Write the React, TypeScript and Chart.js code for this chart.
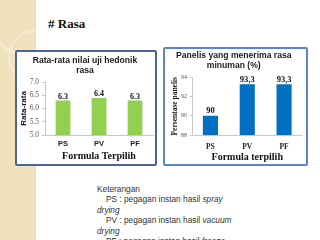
import React, { useEffect, useRef } from "react";
import { Chart, registerables } from "chart.js";

Chart.register(...registerables);

const categories = ["PS", "PV", "PF"];

const hedonicTitle = ["Rata-rata nilai uji hedonik", "rasa"];
const hedonicScores = [6.3, 6.4, 6.3];
const hedonicValueLabels = ["6.3", "6.4", "6.3"];
const hedonicTicks = [5.0, 5.5, 6.0, 6.5, 7.0];
const hedonicTickLabels = ["5.0", "5.5", "6.0", "6.5", "7.0"];
const hedonicYTitle = "Rata-rata";
const hedonicXTitle = "Formula Terpilih";

const acceptTitle = ["Panelis yang menerima rasa", "minuman (%)"];
const acceptPercent = [90, 93.3, 93.3];
const acceptValueLabels = ["90", "93,3", "93,3"];
const acceptTicks = [88, 89, 90, 91, 92, 93, 94];
const acceptTickLabels = ["88", "89", "90", "91", "92", "93", "94"];
const acceptYTitle = "Persentase panelis";
const acceptXTitle = "Formula terpilih";

const noteLines = [
  { indent: false, parts: [{ t: "Keterangan", i: false }] },
  { indent: true, parts: [{ t: "PS : pegagan instan hasil ", i: false }, { t: "spray", i: true }] },
  { indent: false, parts: [{ t: "drying", i: true }] },
  { indent: true, parts: [{ t: "PV : pegagan instan hasil ", i: false }, { t: "vacuum", i: true }] },
  { indent: false, parts: [{ t: "drying", i: true }] },
  { indent: true, parts: [{ t: "PF : pegagan instan hasil ", i: false }, { t: "freeze", i: true }] },
];

const SERIF = "'Liberation Serif', 'DejaVu Serif', serif";
const SANS = "'Liberation Sans', Arial, sans-serif";

const valueLabelPlugin = {
  id: "valueLabels",
  afterDatasetsDraw(chart: any, _args: any, opts: any) {
    const { ctx } = chart;
    const meta = chart.getDatasetMeta(0);
    ctx.save();
    ctx.font = opts.font;
    ctx.fillStyle = opts.color;
    ctx.textAlign = "center";
    ctx.textBaseline = "alphabetic";
    meta.data.forEach((el: any, j: number) => {
      ctx.fillText(opts.labels[j], el.x, el.y - opts.offset);
    });
    ctx.restore();
  },
};

type PanelSpec = {
  width: number;
  height: number;
  title: string[];
  titleSize: number;
  titlePad: { top: number; bottom: number };
  values: number[];
  color: string;
  ticks: number[];
  tickLabels: string[];
  tickFont: any;
  yTitle: string;
  yTitleFont: any;
  yTitlePad: number;
  yWidth: number;
  tickLength: number;
  xTitle: string;
  xHeight: number;
  xLabelFont: any;
  xLabelPad: number;
  xTitlePad: { top: number; bottom: number };
  padRight: number;
  valueLabels: string[];
  valueFont: string;
  valueOffset: number;
};

function BarPanel({ spec }: { spec: PanelSpec }) {
  const ref = useRef<HTMLCanvasElement | null>(null);
  useEffect(() => {
    if (!ref.current) return;
    const s = spec;
    const chart = new Chart(ref.current, {
      type: "bar",
      data: {
        labels: categories,
        datasets: [
          {
            data: s.values,
            backgroundColor: s.color,
            borderWidth: 0,
            categoryPercentage: 1,
            barPercentage: 0.41,
          },
        ],
      },
      plugins: [valueLabelPlugin],
      options: {
        responsive: false,
        animation: false,
        devicePixelRatio: 1,
        layout: { padding: { left: 0, right: s.padRight, top: 0, bottom: 0 } },
        plugins: {
          legend: { display: false },
          tooltip: { enabled: false },
          title: {
            display: true,
            text: s.title,
            color: "#1a1a1a",
            font: { family: SANS, size: s.titleSize, weight: "bold", lineHeight: "10px" },
            padding: s.titlePad,
          },
          valueLabels: {
            labels: s.valueLabels,
            font: s.valueFont,
            color: "#111",
            offset: s.valueOffset,
          },
        } as any,
        scales: {
          x: {
            afterFit: (scale: any) => {
              scale.height = s.xHeight;
            },
            grid: { display: false, drawTicks: false },
            border: { display: true, color: "#c8c8c8", width: 1 },
            ticks: { color: "#222", font: s.xLabelFont, padding: s.xLabelPad },
            title: {
              display: true,
              text: s.xTitle,
              color: "#111",
              font: { family: SERIF, size: 10, weight: "bold", lineHeight: "12px" },
              padding: s.xTitlePad,
            },
          },
          y: {
            min: s.ticks[0],
            max: s.ticks[s.ticks.length - 1],
            afterBuildTicks: (scale: any) => {
              scale.ticks = s.ticks.map((v) => ({ value: v }));
            },
            afterFit: (scale: any) => {
              scale.width = s.yWidth;
            },
            grid: {
              display: true,
              drawOnChartArea: false,
              drawTicks: true,
              tickLength: s.tickLength,
              color: "#c8c8c8",
            },
            border: { display: true, color: "#c8c8c8", width: 1 },
            ticks: {
              color: "#595959",
              font: s.tickFont,
              padding: 3,
              callback: (_v: any, i: number) => s.tickLabels[i],
            },
            title: {
              display: true,
              text: s.yTitle,
              color: "#111",
              font: s.yTitleFont,
              padding: { top: s.yTitlePad, bottom: 0 },
            },
          },
        },
      } as any,
    });
    return () => chart.destroy();
  }, [spec]);
  return (
    <canvas
      ref={ref}
      width={spec.width}
      height={spec.height}
      style={{ position: "absolute", left: 0, top: 0, width: spec.width, height: spec.height }}
    />
  );
}

const leftSpec: PanelSpec = {
  width: 138,
  height: 112,
  title: hedonicTitle,
  titleSize: 8.6,
  titlePad: { top: 4, bottom: 6 },
  values: hedonicScores,
  color: "#92d050",
  ticks: hedonicTicks,
  tickLabels: hedonicTickLabels,
  tickFont: { family: SERIF, size: 7.5, lineHeight: "9px" },
  yTitle: hedonicYTitle,
  yTitleFont: { family: SANS, size: 8, weight: "bold", lineHeight: "9.6px" },
  yTitlePad: 2.2,
  yWidth: 28,
  tickLength: 3,
  xTitle: hedonicXTitle,
  xHeight: 29,
  xLabelFont: { family: SANS, size: 7.5, weight: "bold", lineHeight: "9px" },
  xLabelPad: 4,
  xTitlePad: { top: 2, bottom: 1.5 },
  padRight: 2,
  valueLabels: hedonicValueLabels,
  valueFont: `bold 8px ${SERIF}`,
  valueOffset: 2,
};

const rightSpec: PanelSpec = {
  width: 141,
  height: 115,
  title: acceptTitle,
  titleSize: 8.6,
  titlePad: { top: 1.5, bottom: 7 },
  values: acceptPercent,
  color: "#0070c0",
  ticks: acceptTicks,
  tickLabels: acceptTickLabels,
  tickFont: { family: SERIF, size: 6, lineHeight: "7px" },
  yTitle: acceptYTitle,
  yTitleFont: { family: SERIF, size: 7.5, weight: "bold", lineHeight: "9px" },
  yTitlePad: 5.5,
  yWidth: 27,
  tickLength: 2,
  xTitle: acceptXTitle,
  xHeight: 29,
  xLabelFont: { family: SERIF, size: 7.5, weight: "bold", lineHeight: "9px" },
  xLabelPad: 7.5,
  xTitlePad: { top: 1, bottom: 0.5 },
  padRight: 3.5,
  valueLabels: acceptValueLabels,
  valueFont: `bold 8.5px ${SERIF}`,
  valueOffset: 2.5,
};

export default function App() {
  return (
    <div
      style={{
        position: "fixed",
        left: 0,
        top: 0,
        width: 320,
        height: 240,
        background: "#ffffff",
        overflow: "hidden",
      }}
    >
      <div
        style={{
          position: "absolute",
          left: 0,
          top: 0,
          width: 35,
          height: 240,
          background: "#f0e2bd",
          borderRight: "1px solid #ebdcb2",
          overflow: "hidden",
        }}
      >
        <div
          style={{
            position: "absolute",
            left: -10,
            top: -18,
            width: 70,
            height: 70,
            borderRadius: "50%",
            border: "2px solid rgba(255,255,255,0.35)",
          }}
        />
        <div
          style={{
            position: "absolute",
            left: 8,
            top: 30,
            width: 50,
            height: 50,
            borderRadius: "50%",
            border: "2px solid rgba(255,255,255,0.3)",
          }}
        />
      </div>
      <div
        style={{
          position: "absolute",
          left: 48,
          top: 15,
          fontFamily: SERIF,
          fontWeight: "bold",
          fontSize: 13,
          lineHeight: "18px",
          color: "#111",
        }}
      >
        # Rasa
      </div>
      <div
        style={{
          position: "absolute",
          left: 15,
          top: 50,
          width: 142,
          height: 116,
          boxSizing: "border-box",
          border: "2px solid #4d6596",
          borderRadius: 2,
          background: "#fff",
        }}
      >
        <BarPanel spec={leftSpec} />
      </div>
      <div
        style={{
          position: "absolute",
          left: 163,
          top: 47,
          width: 145,
          height: 119,
          boxSizing: "border-box",
          border: "2px solid #5b86c6",
          borderRadius: 2,
          background: "#fff",
        }}
      >
        <BarPanel spec={rightSpec} />
      </div>
      {noteLines.map((ln, k) => (
        <div
          key={k}
          style={{
            position: "absolute",
            left: ln.indent ? 106 : 97,
            top: 184 + k * 10.4,
            fontFamily: SANS,
            fontSize: 8.3,
            lineHeight: "10px",
            color: "#333",
            whiteSpace: "nowrap",
          }}
        >
          {ln.parts.map((p, j) => (
            <span key={j} style={{ fontStyle: p.i ? "italic" : "normal" }}>
              {p.t}
            </span>
          ))}
        </div>
      ))}
    </div>
  );
}
